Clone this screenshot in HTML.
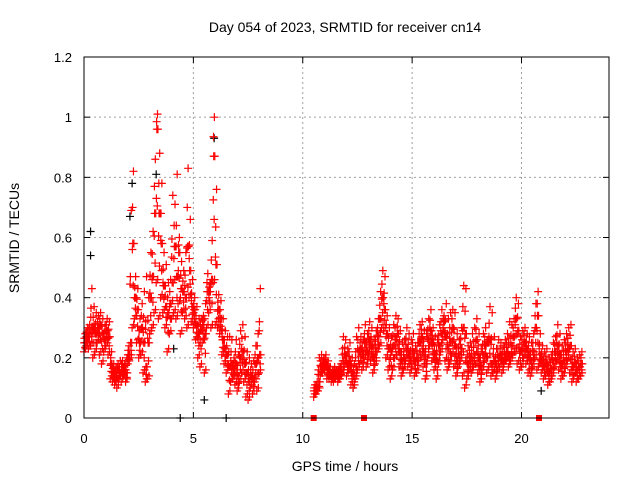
<!DOCTYPE html>
<html><head><meta charset="utf-8"><style>
html,body{margin:0;padding:0;background:#fff}
svg{display:block;font-family:"Liberation Sans",sans-serif}
</style></head><body>
<svg id="chart" width="640" height="480">
<rect width="640" height="480" fill="#fff"/>
<text x="345" y="32" text-anchor="middle" font-size="14">Day 054 of 2023, SRMTID for receiver cn14</text>
<text x="345" y="471" text-anchor="middle" font-size="14">GPS time / hours</text>
<text transform="translate(19,238) rotate(-90)" text-anchor="middle" font-size="14">SRMTID / TECUs</text>
<g id="grid"></g><g id="ticks"></g><g id="marksK"></g><g id="marksR"></g>
<rect x="84" y="57" width="525" height="361" fill="none" stroke="#000" stroke-width="1"/>
</svg>
<script>
const xTicks=[0,5,10,15,20];
const yTicks=[0,0.2,0.4,0.6,0.8,1,1.2];
const yTickLabels=["0","0.2","0.4","0.6","0.8","1","1.2"];
const times=[0,0.1,0.2,0.3,0.4,0.5,0.6,0.7,0.8,0.9,1,1.1,1.2,1.3,1.4,1.5,1.6,1.7,1.8,1.9,2,2.1,2.2,2.3,2.4,2.5,2.6,2.7,2.8,2.9,3,3.1,3.2,3.3,3.4,3.5,3.6,3.7,3.8,3.9,4,4.1,4.2,4.3,4.4,4.5,4.6,4.7,4.8,4.9,5,5.1,5.2,5.3,5.4,5.5,5.6,5.7,5.8,5.9,6,6.1,6.2,6.3,6.4,6.5,6.6,6.7,6.8,6.9,7,7.1,7.2,7.3,7.4,7.5,7.6,7.7,7.8,7.9,8,
10.5,10.6,10.7,10.8,10.9,11,11.1,11.2,11.3,11.4,11.5,11.6,11.7,11.8,11.9,12,12.1,12.2,12.3,12.4,12.5,12.6,12.7,12.8,12.9,13,13.1,13.2,13.3,13.4,13.5,13.6,13.7,13.8,13.9,14,14.1,14.2,14.3,14.4,14.5,14.6,14.7,14.8,14.9,15,15.1,15.2,15.3,15.4,15.5,15.6,15.7,15.8,15.9,16,16.1,16.2,16.3,16.4,16.5,16.6,16.7,16.8,16.9,17,17.1,17.2,17.3,17.4,17.5,17.6,17.7,17.8,17.9,18,18.1,18.2,18.3,18.4,18.5,18.6,18.7,18.8,18.9,19,19.1,19.2,19.3,19.4,19.5,19.6,19.7,19.8,19.9,20,20.1,20.2,20.3,20.4,20.5,20.6,20.7,20.8,20.9,21,21.1,21.2,21.3,21.4,21.5,21.6,21.7,21.8,21.9,22,22.1,22.2,22.3,22.4,22.5,22.6,22.7];
const lowVals=[.22,.24,.23,.24,.20,.22,.25,.21,.18,.22,.24,.21,.13,.12,.11,.10,.13,.12,.14,.12,.18,.20,.30,.33,.25,.20,.21,.15,.12,.13,.28,.30,.35,.45,.33,.40,.35,.30,.22,.28,.33,.35,.33,.38,.28,.35,.33,.30,.40,.32,.30,.26,.20,.17,.25,.15,.30,.35,.30,.45,.31,.30,.28,.21,.18,.15,.08,.12,.13,.11,.09,.12,.15,.12,.07,.06,.10,.08,.12,.09,.15,
.07,.08,.09,.14,.15,.16,.13,.13,.12,.12,.13,.12,.13,.15,.17,.14,.16,.11,.10,.13,.16,.18,.16,.20,.17,.21,.19,.15,.18,.22,.24,.30,.29,.20,.16,.13,.16,.20,.21,.17,.14,.16,.19,.17,.15,.18,.14,.15,.19,.21,.17,.13,.20,.24,.19,.16,.13,.18,.22,.26,.19,.16,.18,.21,.17,.14,.17,.19,.14,.10,.13,.16,.15,.17,.18,.15,.12,.16,.19,.15,.17,.14,.15,.13,.16,.17,.15,.18,.19,.17,.19,.21,.22,.18,.16,.17,.20,.18,.15,.14,.17,.20,.16,.18,.15,.13,.14,.11,.12,.14,.17,.19,.16,.13,.14,.17,.19,.15,.12,.14,.12,.13,.14];
const midVals=[.25,.27,.28,.30,.30,.28,.30,.31,.28,.26,.29,.27,.18,.15,.14,.16,.15,.17,.16,.15,.21,.25,.58,.40,.36,.25,.30,.25,.17,.25,.40,.47,.68,.96,.68,.58,.44,.37,.35,.38,.45,.57,.47,.55,.43,.42,.40,.57,.49,.37,.36,.31,.28,.29,.31,.28,.42,.42,.46,.87,.51,.36,.33,.26,.23,.21,.17,.18,.16,.18,.14,.20,.22,.18,.15,.12,.14,.13,.18,.20,.21,
.09,.10,.12,.17,.18,.18,.16,.15,.14,.15,.15,.14,.16,.19,.21,.18,.19,.15,.14,.17,.22,.23,.21,.25,.22,.26,.24,.20,.22,.27,.33,.40,.36,.28,.23,.22,.24,.26,.28,.22,.19,.20,.23,.21,.19,.22,.19,.20,.25,.27,.22,.18,.26,.29,.25,.21,.19,.24,.28,.32,.27,.23,.25,.30,.24,.19,.21,.23,.30,.28,.18,.20,.19,.21,.26,.20,.17,.21,.24,.25,.26,.18,.19,.18,.20,.21,.19,.21,.22,.21,.24,.27,.33,.29,.22,.23,.25,.23,.21,.19,.22,.30,.34,.21,.19,.17,.18,.15,.16,.19,.22,.24,.21,.18,.19,.22,.23,.24,.17,.18,.16,.17,.18];
const highVals=[.28,.30,.31,.43,.37,.35,.34,.35,.33,.31,.33,.32,.22,.18,.17,.18,.19,.19,.18,.20,.24,.69,.82,.47,.43,.33,.38,.42,.47,.40,.55,.62,.86,1.01,.88,.78,.55,.51,.45,.46,.74,.71,.81,.60,.52,.49,.55,.83,.66,.46,.40,.37,.33,.33,.34,.38,.48,.45,.59,1.00,.76,.41,.39,.33,.29,.27,.27,.26,.20,.26,.21,.29,.31,.27,.22,.20,.18,.19,.24,.28,.43,
.11,.12,.20,.21,.20,.21,.19,.17,.16,.17,.16,.17,.18,.27,.26,.23,.25,.20,.18,.27,.30,.27,.26,.31,.28,.32,.30,.26,.29,.33,.42,.49,.47,.34,.30,.27,.31,.34,.33,.29,.25,.26,.30,.28,.26,.28,.24,.25,.31,.32,.29,.28,.33,.36,.30,.27,.26,.31,.36,.34,.38,.33,.35,.36,.35,.28,.26,.30,.44,.43,.24,.25,.28,.30,.33,.28,.23,.28,.30,.26,.37,.35,.27,.23,.26,.25,.24,.26,.28,.32,.31,.33,.40,.38,.27,.29,.30,.28,.27,.25,.28,.38,.42,.28,.24,.22,.23,.20,.21,.25,.27,.31,.28,.24,.26,.28,.30,.31,.22,.23,.20,.21,.22];
const grayTimes=[0.3,0.3,2.1,2.2,3.3,4.1,5.5,5.95,12.3,20.9,4.4,6.5];
const grayVals=[0.62,0.54,0.67,0.78,0.81,0.23,0.06,0.93,0.10,0.09,0.0,0.0];
const zeroRedTimes=[10.5,12.8,20.8];

const X0=84,X1=609,Y0=418,Y1=57,XMAX=24,YMAX=1.2;
const sx=t=>X0+(X1-X0)*t/XMAX;
const sy=v=>Y0-(Y0-Y1)*v/YMAX;
const NS="http://www.w3.org/2000/svg";
function mk(tag,attrs,parent){const e=document.createElementNS(NS,tag);for(const k in attrs)e.setAttribute(k,attrs[k]);parent.appendChild(e);return e;}
const grid=document.getElementById('grid'),ticks=document.getElementById('ticks');
xTicks.forEach(t=>{
  const x=sx(t);
  if(t>0){const g=mk('line',{x1:x,x2:x,y1:Y1,y2:Y0,stroke:'#a0a0a0','stroke-dasharray':'2,3'},grid);
  
  }
  mk('line',{x1:x,x2:x,y1:Y0,y2:Y0-6,stroke:'#000'},ticks);
  mk('line',{x1:x,x2:x,y1:Y1,y2:Y1+6,stroke:'#000'},ticks);
  const l=mk('text',{x:x,y:443,'text-anchor':'middle','font-size':'13'},ticks);
  l.textContent=String(t);
  
  
});
yTicks.forEach((v,i)=>{
  const y=sy(v);
  if(v>0&&v<YMAX){const g=mk('line',{x1:X0,x2:X1,y1:y,y2:y,stroke:'#a0a0a0','stroke-dasharray':'2,3'},grid);
  
  }
  mk('line',{x1:X0,x2:X0+6,y1:y,y2:y,stroke:'#000'},ticks);
  mk('line',{x1:X1,x2:X1-6,y1:y,y2:y,stroke:'#000'},ticks);
  const l=mk('text',{x:72,y:y+5,'text-anchor':'end','font-size':'13'},ticks);
  l.textContent=yTickLabels[i];
  
  
});
function plus(t,v,color,parent,name){
  const x=sx(t),y=sy(v);
  const p=mk('path',{d:`M${x-4} ${y}h8M${x} ${y-4}v8`,stroke:color,'stroke-width':'1.2',fill:'none'},parent);
  
  
}
const gK=document.getElementById('marksK'),gR=document.getElementById('marksR');
grayTimes.forEach((t,i)=>plus(t,grayVals[i],'#000',gK,'black-point'));
times.forEach((t,i)=>{
  const lo=lowVals[i],md=midVals[i],hi=highVals[i];
  plus(t,lo,'#f00',gR,'srmtid-point');
  plus(t+0.03,md,'#f00',gR,'srmtid-point');
  plus(t+0.06,hi,'#f00',gR,'srmtid-point');
  plus(t+0.05,(lo+md)/2,'#f00',gR,'srmtid-point');
  plus(t+0.02,(md+hi)/2,'#f00',gR,'srmtid-point');
  plus(t+0.08,md,'#f00',gR,'srmtid-point');
  plus(t+0.01,(lo+hi)/2,'#f00',gR,'srmtid-point');
  plus(t+0.07,lo+0.01,'#f00',gR,'srmtid-point');
});
zeroRedTimes.forEach(t=>{
  const r=mk('rect',{x:sx(t)-3,y:Y0-3,width:6,height:6,fill:'#f00'},gR);
  
  
});
</script>
</body></html>
